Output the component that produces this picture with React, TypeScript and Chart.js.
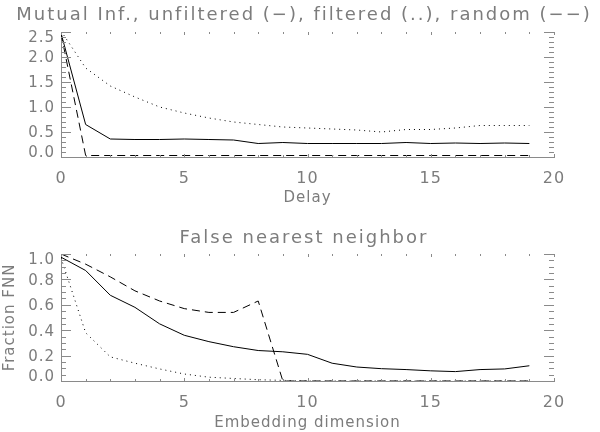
import React, { useEffect, useRef } from "react";
import { Chart, registerables } from "chart.js";

Chart.register(...registerables);

// ---- Data ----
const delays = [0, 1, 2, 3, 4, 5, 6, 7, 8, 9, 10, 11, 12, 13, 14, 15, 16, 17, 18, 19];
const miUnfiltered = [2.48, 0.65, 0.36, 0.35, 0.35, 0.36, 0.35, 0.34, 0.27, 0.29, 0.27, 0.27, 0.27, 0.27, 0.29, 0.27, 0.28, 0.27, 0.28, 0.27];
const miFiltered = [2.52, 1.78, 1.42, 1.2, 1.0, 0.88, 0.78, 0.7, 0.65, 0.6, 0.58, 0.56, 0.54, 0.5, 0.55, 0.55, 0.58, 0.63, 0.63, 0.63];
const miRandom = [2.47, 0.03, 0.03, 0.03, 0.03, 0.03, 0.03, 0.03, 0.03, 0.03, 0.03, 0.03, 0.03, 0.03, 0.03, 0.03, 0.03, 0.03, 0.03, 0.03];

const dims = [0, 1, 2, 3, 4, 5, 6, 7, 8, 9, 10, 11, 12, 13, 14, 15, 16, 17, 18, 19];
const fnnUnfiltered = [0.975, 0.87, 0.675, 0.58, 0.45, 0.36, 0.31, 0.27, 0.24, 0.23, 0.21, 0.14, 0.11, 0.097, 0.09, 0.08, 0.074, 0.09, 0.095, 0.12];
const fnnFiltered = [0.97, 0.38, 0.19, 0.14, 0.095, 0.055, 0.03, 0.02, 0.01, 0.005, 0, 0, 0, 0, 0, 0, 0, 0, 0, 0];
const fnnRandom = [1.0, 0.92, 0.82, 0.71, 0.63, 0.57, 0.54, 0.54, 0.63, 0.0, 0, 0, 0, 0, 0, 0, 0, 0, 0, 0];

const topTitle = "Mutual Inf., unfiltered (\u2212), filtered (..), random (\u2212\u2212)";
const topXLabel = "Delay";
const bottomTitle = "False nearest neighbor";
const bottomXLabel = "Embedding dimension";
const bottomYLabel = "Fraction FNN";

const FONT = "'DejaVu Sans', sans-serif";
const TEXT = "#7c7c7c";
const AXIS = "#8a8a8a";

type Cfg = {
  xs: number[];
  series: { data: number[]; dash: number[] }[];
  yMax: number;
  yMajor: number;
  yMinor: number;
  title: string;
  titlePadTop: number;
  titlePadBottom: number;
  xLabel: string;
  xAxisHeight: number;
  xLabelPadBottom: number;
  yLabel?: string;
};

const spacingPlugin = {
  id: "idlSpacing",
  afterLayout(chart: any) {
    const tb = chart.titleBlock;
    if (tb && !tb._idlPatched) {
      const orig = tb.draw.bind(tb);
      tb.draw = (...a: any[]) => {
        const ctx = chart.ctx;
        const prev = ctx.letterSpacing;
        ctx.letterSpacing = "2px";
        orig(...a);
        ctx.letterSpacing = prev;
      };
      tb._idlPatched = true;
    }
  },
  beforeDraw(chart: any) {
    chart.ctx.letterSpacing = "1px";
    // IDL nudges the end labels of the y axis inward
    const ys = chart.scales.y;
    const items = ys.getLabelItems(chart.chartArea);
    if (items && !items._idlNudged) {
      const last = items.length - 1;
      items.forEach((it: any, i: number) => {
        const t = it.options.translation;
        if (i === 0) t[1] -= 4;
        else if (i === last) t[1] += 6;
        else t[1] += 1.5;
      });
      items._idlNudged = true;
    }
  },
  afterDraw(chart: any) {
    chart.ctx.letterSpacing = "0px";
  },
};

const ticksPlugin = {
  id: "idlTicks",
  afterDatasetsDraw(chart: any, _args: any, opts: any) {
    const { ctx, chartArea } = chart;
    const x = chart.scales.x;
    const y = chart.scales.y;
    const { left, right, top, bottom } = chartArea;
    ctx.save();
    ctx.strokeStyle = AXIS;
    ctx.lineWidth = 1;
    ctx.beginPath();
    for (let v = 0; v <= 20 + 1e-9; v += 1) {
      const px = Math.round(x.getPixelForValue(v)) + 0.5;
      const len = v % 5 === 0 ? 3 : 2;
      ctx.moveTo(px, bottom);
      ctx.lineTo(px, bottom - len);
      ctx.moveTo(px, top);
      ctx.lineTo(px, top + len);
    }
    const n = Math.round(opts.yMax / opts.yMinor);
    const per = Math.round(opts.yMajor / opts.yMinor);
    for (let i = 0; i <= n; i++) {
      const v = i * opts.yMinor;
      const py = Math.round(y.getPixelForValue(v)) + 0.5;
      const len = i % per === 0 ? 10 : 5;
      ctx.moveTo(left, py);
      ctx.lineTo(left + len, py);
      ctx.moveTo(right, py);
      ctx.lineTo(right - len, py);
    }
    ctx.stroke();
    ctx.restore();
  },
};

function makeConfig(c: Cfg): any {
  return {
    type: "line",
    data: {
      datasets: c.series.map((s) => ({
        data: c.xs.map((xv, i) => ({ x: xv, y: s.data[i] })),
        borderColor: "#000",
        borderWidth: 1,
        borderDash: s.dash,
        pointRadius: 0,
        fill: false,
        tension: 0,
      })),
    },
    options: {
      responsive: false,
      animation: false,
      events: [],
      layout: { padding: { left: 8, right: 0, top: 0, bottom: 0 } },
      plugins: {
        legend: { display: false },
        tooltip: { enabled: false },
        title: {
          display: true,
          text: c.title,
          color: TEXT,
          font: { family: FONT, size: 18, weight: "normal" },
          padding: { top: c.titlePadTop, bottom: c.titlePadBottom },
        },
        idlTicks: { yMax: c.yMax, yMajor: c.yMajor, yMinor: c.yMinor },
      },
      scales: {
        x: {
          type: "linear",
          min: 0,
          max: 20,
          border: { display: true, color: AXIS, width: 1 },
          grid: { display: false, drawTicks: false },
          ticks: {
            stepSize: 5,
            color: TEXT,
            padding: 12,
            maxRotation: 0,
            font: { family: FONT, size: 16 },
            callback: (v: any) => String(v),
          },
          title: {
            display: true,
            text: c.xLabel,
            color: TEXT,
            font: { family: FONT, size: 15 },
            padding: { top: 0, bottom: c.xLabelPadBottom },
          },
          afterFit: (s: any) => {
            s.height = c.xAxisHeight;
            s.paddingRight = 46;
          },
        },
        y: {
          type: "linear",
          min: 0,
          max: c.yMax,
          border: { display: true, color: AXIS, width: 1 },
          grid: { display: false, drawTicks: false },
          ticks: {
            stepSize: c.yMajor,
            color: TEXT,
            padding: 6,
            font: { family: FONT, size: 15 },
            callback: (v: any) => Number(v).toFixed(1),
          },
          title: {
            display: !!c.yLabel,
            text: c.yLabel || "",
            color: TEXT,
            font: { family: FONT, size: 15 },
            padding: { top: -7, bottom: 0 },
          },
          afterFit: (s: any) => {
            s.width = 53;
          },
        },
      },
    },
    plugins: [spacingPlugin, ticksPlugin],
  };
}

function ChartCanvas({ cfg }: { cfg: Cfg }) {
  const ref = useRef<HTMLCanvasElement | null>(null);
  useEffect(() => {
    if (!ref.current) return;
    const chart = new Chart(ref.current, makeConfig(cfg));
    return () => chart.destroy();
  }, [cfg]);
  return (
    <canvas
      ref={ref}
      width={600}
      height={216}
      style={{ display: "block", width: 600, height: 216 }}
    />
  );
}

const topCfg: Cfg = {
  xs: delays,
  series: [
    { data: miUnfiltered, dash: [] },
    { data: miFiltered, dash: [1, 4] },
    { data: miRandom, dash: [8, 5] },
  ],
  yMax: 2.5,
  yMajor: 0.5,
  yMinor: 0.1,
  title: topTitle,
  titlePadTop: 5,
  titlePadBottom: 5.4,
  xLabel: topXLabel,
  xAxisHeight: 59,
  xLabelPadBottom: 9,
};

const bottomCfg: Cfg = {
  xs: dims,
  series: [
    { data: fnnUnfiltered, dash: [] },
    { data: fnnFiltered, dash: [1, 4] },
    { data: fnnRandom, dash: [8, 5] },
  ],
  yMax: 1.0,
  yMajor: 0.2,
  yMinor: 0.05,
  title: bottomTitle,
  titlePadTop: 11.2,
  titlePadBottom: 5.2,
  xLabel: bottomXLabel,
  xAxisHeight: 51,
  xLabelPadBottom: 0,
  yLabel: bottomYLabel,
};

export default function App() {
  return (
    <div
      style={{
        position: "absolute",
        left: 0,
        top: 0,
        width: 600,
        height: 432,
        background: "#fff",
      }}
    >
      <ChartCanvas cfg={topCfg} />
      <ChartCanvas cfg={bottomCfg} />
    </div>
  );
}
